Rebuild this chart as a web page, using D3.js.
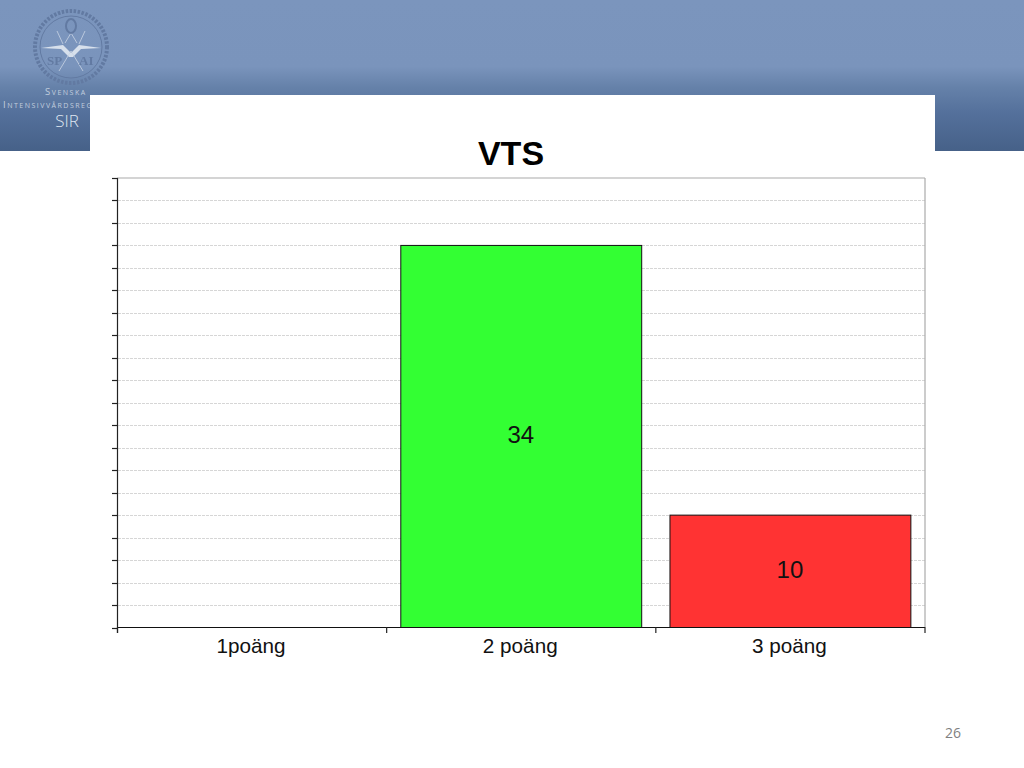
<!DOCTYPE html>
<html><head><meta charset="utf-8">
<script src="https://cdn.jsdelivr.net/npm/d3@7"></script>
<style>html,body{margin:0;padding:0;background:#fff;overflow:hidden}svg{display:block}</style>
</head><body><svg id="c" width="1024" height="768"></svg>
<script>
const chartTitle = "VTS";
const categories = ["1poäng", "2 poäng", "3 poäng"];
const values = [0, 34, 10];
const barColors = ["#33ff33", "#33ff33", "#ff3333"];
const yTicks = d3.range(0, 41, 2);
const slideNumber = "26";

const svg = d3.select("#c");
const defs = svg.append("defs");
const g = defs.append("linearGradient").attr("id","hdr").attr("x1",0).attr("x2",0).attr("y1",0).attr("y2",1);
[[0,"#7b95bd"],[0.44,"#7a94bc"],[0.58,"#6581a9"],[0.75,"#54709b"],[1,"#466188"]].forEach(s=>g.append("stop").attr("offset",s[0]).attr("stop-color",s[1]));
defs.append("filter").attr("id","soft").attr("x","-10%").attr("y","-10%").attr("width","120%").attr("height","120%")
  .append("feGaussianBlur").attr("stdDeviation",0.45);

svg.append("rect").attr("width",1024).attr("height",151).attr("fill","url(#hdr)");

// logo
const logo = svg.append("g").attr("transform","translate(71,47)").attr("filter","url(#soft)");
const ringC = "#627aa2";
logo.append("circle").attr("r",36).attr("fill","none").attr("stroke",ringC).attr("stroke-width",4).attr("stroke-dasharray","2.5 1.5");
logo.append("circle").attr("r",31).attr("fill","none").attr("stroke",ringC).attr("stroke-width",1);
logo.append("path").attr("d","M-30,1 L-8,-2 L0,6 L8,-2 L30,1 L10,2 L2,10 L-2,10 L-10,2 Z").attr("fill","#e8edf5").attr("opacity",0.85);
logo.append("path").attr("d","M-12,24 L0,4 L12,24 M-6,-4 L0,-14 L6,-4 M-14,-16 L-8,-3 M14,-16 L8,-3").attr("fill","none").attr("stroke","#c9d4e4").attr("stroke-width",0.8);
logo.append("ellipse").attr("cy",-21).attr("rx",5).attr("ry",7).attr("fill","none").attr("stroke",ringC).attr("stroke-width",2);
logo.append("text").attr("x",-24).attr("y",18).text("SP").attr("font-family","Liberation Serif").attr("font-weight","bold").attr("font-size",13).attr("fill",ringC);
logo.append("text").attr("x",8).attr("y",18).text("AI").attr("font-family","Liberation Serif").attr("font-weight","bold").attr("font-size",13).attr("fill",ringC);

const hdrText = [["Svenska",45,95],["Intensivvårdsregistret",3,108]];
hdrText.forEach(t=>svg.append("text").attr("x",t[1]).attr("y",t[2]).text(t[0])
  .attr("font-family","Open Sans").attr("font-size",9.5).style("font-variant","small-caps").attr("letter-spacing",1.5).attr("fill","#c2cede"));
svg.append("text").attr("x",67).attr("y",127).attr("text-anchor","middle").text("SIR").attr("font-family","Open Sans").attr("font-size",17).attr("font-weight",300).attr("fill","#dfe6f0");

svg.append("rect").attr("x",90).attr("y",95).attr("width",845).attr("height",673).attr("fill","#fff");
svg.append("rect").attr("x",935).attr("y",151).attr("width",89).attr("height",617).attr("fill","#fff");

// chart
const x = d3.scaleBand().domain(categories).range([117.5,925]).paddingInner(0.105).paddingOuter(0.0525);
const y = d3.scaleLinear().domain([0,40]).range([627.5,178]);
const edges = d3.range(0, categories.length+1).map(i=>117.5 + i*x.step());

svg.append("g").selectAll("line").data(yTicks.filter(d=>d>0&&d<40)).join("line")
  .attr("x1",118).attr("x2",925).attr("y1",d=>Math.round(y(d))+.5).attr("y2",d=>Math.round(y(d))+.5)
  .attr("stroke","#d6d6d6").attr("stroke-width",1).attr("stroke-dasharray","3 1");
svg.append("line").attr("x1",117).attr("x2",925).attr("y1",178).attr("y2",178).attr("stroke","#aaa").attr("stroke-width",1.2);
svg.append("line").attr("x1",925).attr("x2",925).attr("y1",178).attr("y2",627).attr("stroke","#aaa").attr("stroke-width",1.2);

svg.append("g").selectAll("rect").data(categories.map((c,i)=>({c,v:values[i],f:barColors[i]})).filter(d=>d.v>0)).join("rect")
  .attr("x",d=>x(d.c)).attr("width",x.bandwidth()).attr("y",d=>y(d.v)).attr("height",d=>y(0)-y(d.v))
  .attr("fill",d=>d.f).attr("stroke","#111").attr("stroke-width",1);

svg.append("g").selectAll("line").data(yTicks).join("line")
  .attr("x1",112).attr("x2",117.5).attr("y1",d=>Math.round(y(d))+.5).attr("y2",d=>Math.round(y(d))+.5).attr("stroke","#222").attr("stroke-width",1.2);
svg.append("line").attr("x1",117.5).attr("x2",117.5).attr("y1",178).attr("y2",633).attr("stroke","#222").attr("stroke-width",1.2);
svg.append("line").attr("x1",117).attr("x2",925).attr("y1",627.5).attr("y2",627.5).attr("stroke","#111").attr("stroke-width",1.2);
svg.append("g").selectAll("line").data(edges).join("line")
  .attr("x1",d=>d).attr("x2",d=>d).attr("y1",627).attr("y2",633).attr("stroke","#222").attr("stroke-width",1.2);

svg.append("g").selectAll("text").data(categories).join("text")
  .attr("x",d=>x(d)+x.bandwidth()/2-1).attr("y",652.5).attr("text-anchor","middle").text(d=>d)
  .attr("font-family","Liberation Sans").attr("font-size",20.7).attr("fill","#111");

svg.append("g").selectAll("text").data(categories.map((c,i)=>({c,v:values[i]})).filter(d=>d.v>0)).join("text")
  .attr("x",d=>x(d.c)+x.bandwidth()/2-0.5).attr("y",d=>(y(d.v)+y(0))/2+7).attr("text-anchor","middle").text(d=>d.v)
  .attr("font-family","Liberation Sans").attr("font-size",24).attr("fill","#111");

svg.append("text").attr("x",511).attr("y",165).attr("text-anchor","middle").text(chartTitle)
  .attr("font-family","Liberation Sans").attr("font-weight","bold").attr("font-size",34).attr("fill","#000");

svg.append("text").attr("x",953).attr("y",738).attr("text-anchor","middle").text(slideNumber)
  .attr("font-family","Open Sans").attr("font-size",14).attr("fill","#7f7f7f");
</script></body></html>
